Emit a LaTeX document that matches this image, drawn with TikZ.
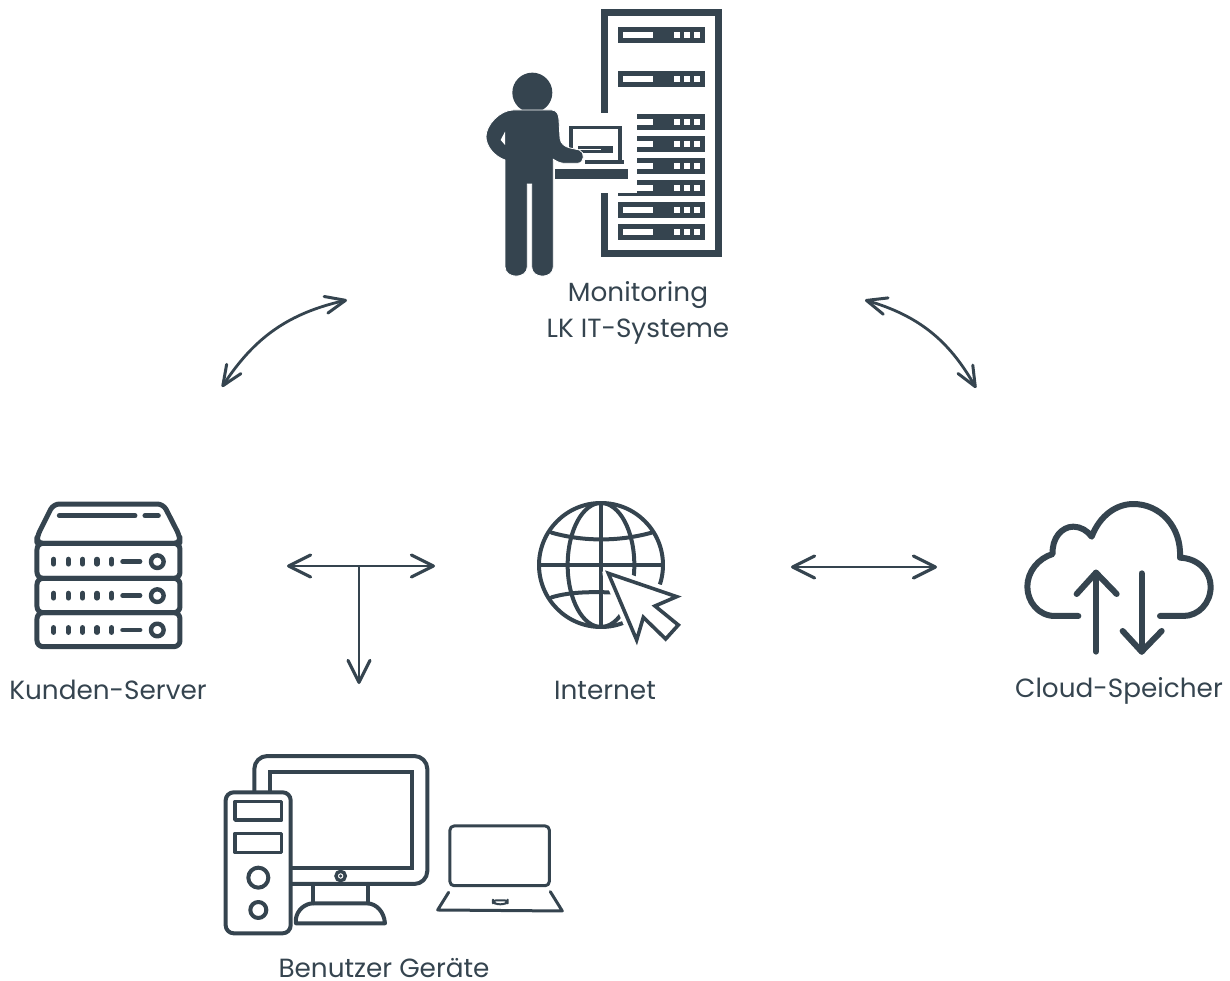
\documentclass[tikz,border=0pt]{standalone}
\usepackage{fontspec}
\setmainfont{Poppins}
\usetikzlibrary{arrows.meta}
\definecolor{lkdark}{HTML}{35444F}

\begin{document}
\begin{tikzpicture}[x=1pt,y=-1pt,>={Straight Barb[round,length=22pt,width=22pt,line width=3.2pt]},
  lbl/.style={align=center,text=lkdark,font=\fontsize{26.3}{36}\selectfont,inner sep=0pt},
  link/.style={draw=lkdark,line width=2.8pt,<->},
  curvy/.style={link,>={Straight Barb[round,length=20pt,width=17pt,line width=3pt]}},
  zoomed/.style={x=0.3333pt,y=-0.3333pt},
  icon/.style={draw=lkdark,line cap=round,line join=round}]
\useasboundingbox (0,0) rectangle (1230,981);

% labels
\node (mon) [lbl] at (638,313) {Monitoring\\LK IT-Systeme};
\node (srv) [lbl] at (108,690) {Kunden-Server};
\node (net) [lbl] at (605,690) {Internet};
\node (cld) [lbl] at (1119,691) {Cloud-Speicher};
\node (usr) [lbl] at (384,968) {Benutzer Geräte};

% connectors
\coordinate (srvA) at (222,387);
\coordinate (monA) at (347,300);
\coordinate (monB) at (865,300);
\coordinate (cldA) at (976,388);
\coordinate (srvB) at (287,566);
\coordinate (netA) at (435,566);
\coordinate (netB) at (791,567);
\coordinate (cldB) at (937,567);
\coordinate (tee) at (359,566);
\coordinate (usrA) at (359,684);
\draw[curvy] (srvA) to[bend left=22] (monA);
\draw[curvy] (monB) to[bend left=22] (cldA);
\draw[link] (srvB) -- (netA);
\draw[link] (netB) -- (cldB);
\draw[link,<-] (usrA) -- (tee);

% monitoring: rack and person
\begin{scope}[shift={(470,0)},zoomed]
\draw[draw=lkdark,line width=6.7pt] (403,338) -- (403,38) -- (745,38) -- (745,761) -- (403,761) -- (403,578);
\foreach \uy in {81,212,606,671} {
  \fill[lkdark] (444,\uy) rectangle (704,\uy+48);
  \fill[white] (460,\uy+15) rectangle (549,\uy+33);
}
\foreach \uy in {343,409,474,540} {
  \fill[lkdark] (501,\uy) rectangle (704,\uy+48);
  \fill[white] (501,\uy+15) rectangle (549,\uy+33);
}
\foreach \uy in {81,212,343,409,474,540,606,671} {
  \foreach \ux in {611,641,671}
    \fill[white] (\ux,\uy+15) rectangle (\ux+19,\uy+33);
}
\fill[lkdark] (444,578) rectangle (501,588);
\fill[lkdark] (256,507) rectangle (475,538);
\fill[lkdark] (298,377) rectangle (455,480);
\fill[white] (310,388) rectangle (443,480);
\fill[lkdark] (325,438) rectangle (430,458);
\fill[white] (325,446) rectangle (392,451);
\fill[lkdark] (345,480) rectangle (462,492);
\fill[lkdark] (187,278) circle (60);
\filldraw[fill=lkdark,draw=white,line width=0.8pt] (130,330) -- (245,330)
  .. controls (262,330) and (266,345) .. (267,360) -- (270,415)
  .. controls (272,432) and (285,440) .. (300,444) -- (328,450)
  .. controls (345,455) and (345,490) .. (322,490) -- (280,490)
  .. controls (268,488) and (258,484) .. (250,478) -- (250,800)
  .. controls (250,838) and (185,838) .. (185,800) -- (185,552) -- (172,552) -- (172,800)
  .. controls (172,838) and (105,838) .. (105,800) -- (105,480)
  .. controls (75,470) and (48,440) .. (48,410)
  .. controls (48,375) and (90,330) .. (130,330) -- cycle;
\fill[white] (105,395) -- (92,420) -- (105,435) -- cycle;
\end{scope}

% kunden-server
\begin{scope}[shift={(0,490)},zoomed]
\draw[icon,line width=5pt,rounded corners=6pt] (111,160) -- (111,140) -- (160,42) -- (490,42) -- (540,140) -- (540,160) -- cycle;
\draw[icon,line width=5pt,rounded corners=6pt] (111,160) rectangle (540,265);
\draw[icon,line width=5pt,rounded corners=6pt] (111,265) rectangle (540,368);
\draw[icon,line width=5pt,rounded corners=6pt] (111,368) rectangle (540,470);
\draw[icon,line width=5pt] (178,77) -- (405,77);
\draw[icon,line width=5pt] (435,77) -- (475,77);
\foreach \ry in {215,317,420} {
  \foreach \rx in {161,205,248,291,335}
    \draw[icon,line width=5.2pt] (\rx,\ry-7) -- (\rx,\ry+7);
  \draw[icon,line width=4.8pt] (368,\ry) -- (420,\ry);
  \draw[icon,line width=4.4pt] (472,\ry) circle (19);
}
\end{scope}

% internet
\begin{scope}[shift={(520,490)},zoomed]
\draw[icon,line width=4pt] (243,225) circle (186);
\draw[icon,line width=4pt] (243,225) ellipse (100 and 186);
\draw[icon,line width=4pt] (243,39) -- (243,411);
\draw[icon,line width=4pt] (57,225) -- (429,225);
\draw[icon,line width=4pt] (95,128) .. controls (190,155) and (296,155) .. (395,128);
\draw[icon,line width=4pt] (95,322) .. controls (150,305) and (220,305) .. (290,308);
\filldraw[fill=white,draw=white,line width=12pt,line join=round] (265,250) -- (470,320) -- (405,348) -- (475,405) -- (437,447) -- (370,382) -- (350,450) -- cycle;
\draw[draw=lkdark,line width=3.6pt,line join=miter] (265,250) -- (470,320) -- (405,348) -- (475,405) -- (437,447) -- (370,382) -- (350,450) -- cycle;
\end{scope}

% cloud-speicher
\begin{scope}[shift={(1010,490)},zoomed]
\draw[icon,line width=6pt] (205,378) -- (135,378) .. controls (85,378) and (52,335) .. (52,290)
  .. controls (52,245) and (85,205) .. (128,192) .. controls (125,145) and (155,110) .. (190,110)
  .. controls (212,110) and (232,122) .. (245,140) .. controls (270,75) and (320,42) .. (370,42)
  .. controls (450,42) and (515,110) .. (510,203) .. controls (565,205) and (602,245) .. (602,290)
  .. controls (602,340) and (565,378) .. (520,378) -- (450,378);
\draw[icon,line width=6pt] (258,485) -- (258,248);
\draw[icon,line width=6pt] (200,312) -- (258,248) -- (320,312);
\draw[icon,line width=6pt] (395,250) -- (395,485);
\draw[icon,line width=6pt] (338,423) -- (395,485) -- (455,423);
\end{scope}

% benutzer geraete
\begin{scope}[shift={(210,740)},zoomed]
\draw[icon,line width=4pt,rounded corners=13pt] (133,155) -- (133,48) -- (652,48) -- (652,432) -- (245,432);
\draw[icon,line width=4pt,line join=miter] (180,155) -- (180,95) -- (605,95) -- (605,383) -- (245,383);
\filldraw[fill=white,draw=lkdark,line width=3.4pt] (392,408) circle (14);
\fill[lkdark] (392,408) circle (5);
\draw[icon,line width=4pt] (310,432) -- (310,490);
\draw[icon,line width=4pt] (473,432) -- (473,490);
\draw[icon,line width=4pt] (258,550) -- (258,535) .. controls (262,510) and (285,490) .. (310,490) -- (473,490)
  .. controls (500,492) and (522,515) .. (525,550) -- cycle;
\draw[icon,line width=4pt,rounded corners=8pt] (47,157) rectangle (242,580);
\draw[icon,line width=3.6pt,line join=round] (75,185) rectangle (215,240);
\draw[icon,line width=3.6pt,line join=round] (75,280) rectangle (215,337);
\draw[icon,line width=4pt] (145,413) circle (30);
\draw[icon,line width=4pt] (145,510) circle (24);
\draw[icon,line width=3pt,rounded corners=4pt] (720,258) rectangle (1018,437);
\draw[icon,line width=3pt] (716,457) -- (683,510) -- (1057,513) -- (1021,455);
\draw[icon,line width=2pt,rounded corners=3pt] (849,481) -- (893,481) -- (893,488) -- (880,493) -- (862,493) -- (849,488) -- cycle;
\end{scope}
\end{tikzpicture}
\end{document}
